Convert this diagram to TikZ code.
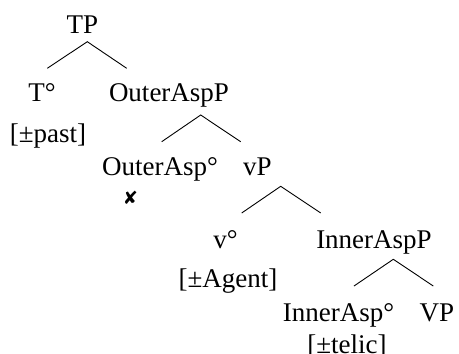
\documentclass[tikz,border=0pt]{standalone}
\usepackage{fontspec}
\setmainfont{Liberation Serif}
\newfontfamily\symfont{DejaVu Sans}
\begin{document}
\begin{tikzpicture}[x=1pt,y=-1pt,
  lbl/.style={font=\fontsize{27}{32}\selectfont, inner sep=0pt, anchor=base},
  xsign/.style={font=\symfont\fontsize{18}{20}\selectfont, inner sep=0pt},
  branch/.style={line width=0.9pt, line join=miter}]
\useasboundingbox (0,0) rectangle (459,354);
\clip (0,0) rectangle (459,354);

% category labels, placed on their baselines
\node[lbl] (tp)      at (82.5,33)  {TP};
\node[lbl] (t)       at (42,101)   {T°};
\node[lbl] (tfeat)   at (48,142)   {[±past]};
\node[lbl] (outp)    at (169,101)  {OuterAspP};
\node[lbl] (outh)    at (160,175)  {OuterAsp°};
\node[xsign] (outx)  at (130.5,198) {✘};
\node[lbl] (vp)      at (257.5,175) {vP};
\node[lbl] (v)       at (225.5,248) {v°};
\node[lbl] (vfeat)   at (228,287)  {[±Agent]};
\node[lbl] (inp)     at (374,248)  {InnerAspP};
\node[lbl] (inh)     at (338.5,321) {InnerAsp°};
\node[lbl] (bigvp)   at (437,321)  {VP};
\node[lbl] (infeat)  at (347,353)  {[±telic]};

% branch points: apex under each phrase, leg ends above its daughters
\coordinate (tp-a)  at (87.3,41.7);
\coordinate (tp-l)  at (47.3,68.3);
\coordinate (tp-r)  at (126.7,68.3);
\coordinate (out-a) at (200.7,115);
\coordinate (out-l) at (161.7,141.7);
\coordinate (out-r) at (240.7,141.7);
\coordinate (vp-a)  at (280.7,186.3);
\coordinate (vp-l)  at (241.7,213);
\coordinate (vp-r)  at (320.7,213);
\coordinate (in-a)  at (393.3,259.3);
\coordinate (in-l)  at (354,286);
\coordinate (in-r)  at (433.3,286);

\draw[branch] (tp-l) -- (tp-a) -- (tp-r);
\draw[branch] (out-l) -- (out-a) -- (out-r);
\draw[branch] (vp-l) -- (vp-a) -- (vp-r);
\draw[branch] (in-l) -- (in-a) -- (in-r);
\end{tikzpicture}
\end{document}
